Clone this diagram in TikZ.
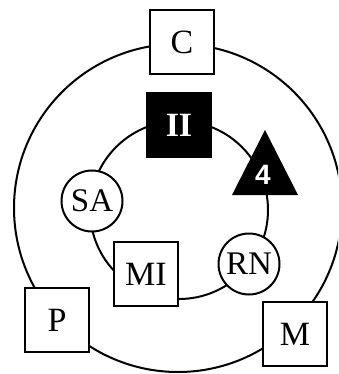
\documentclass[tikz,border=0pt]{standalone}
\usepackage{fontspec}
\setmainfont{Liberation Serif}
\newfontfamily\numfont{Liberation Sans}

\begin{document}
\begin{tikzpicture}[x=1pt,y=-1pt,line width=2pt,
	box node/.style={rectangle,draw,fill=white,minimum size=64pt,inner sep=0pt,font=\fontsize{34}{34}\selectfont},
	dark node/.style={box node,fill=black,text=white,font=\fontsize{34}{34}\selectfont\bfseries},
	ring node/.style={circle,draw,fill=white,minimum size=61pt,inner sep=0pt,font=\fontsize{33}{33}\selectfont}
]
	\useasboundingbox (0,0) rectangle (338,374);
	\clip (0,0) rectangle (338,374);

	\def \ro {164};
	\def \ri {89};

	\coordinate (outer) at (178,208);
	\coordinate (inner) at (179,210);

	% the two rings
	\draw (outer) circle (\ro);
	\draw (inner) circle (\ri);

	% outer ring
	\foreach \x/\y/\name in {182/42/C, 57/320/P, 295/334/M} {
		\node[box node] (\name) at (\x,\y) {\name};
	}

	% inner ring
	\node[dark node] (II) at (179,125) {II};
	\node[ring node] (SA) at (92,201) {SA};
	\node[box node] (MI) at (146,274) {MI};
	\node[ring node] (RN) at (249,264) {RN};

	\coordinate (tri) at (265,173);
	\fill (tri) ++(0,-43) -- ++(33,65) -- ++(-66,0) -- cycle;
	\node[text=white,font=\numfont\bfseries\fontsize{28}{28}\selectfont] (four) at (263,175) {4};
\end{tikzpicture}
\end{document}
